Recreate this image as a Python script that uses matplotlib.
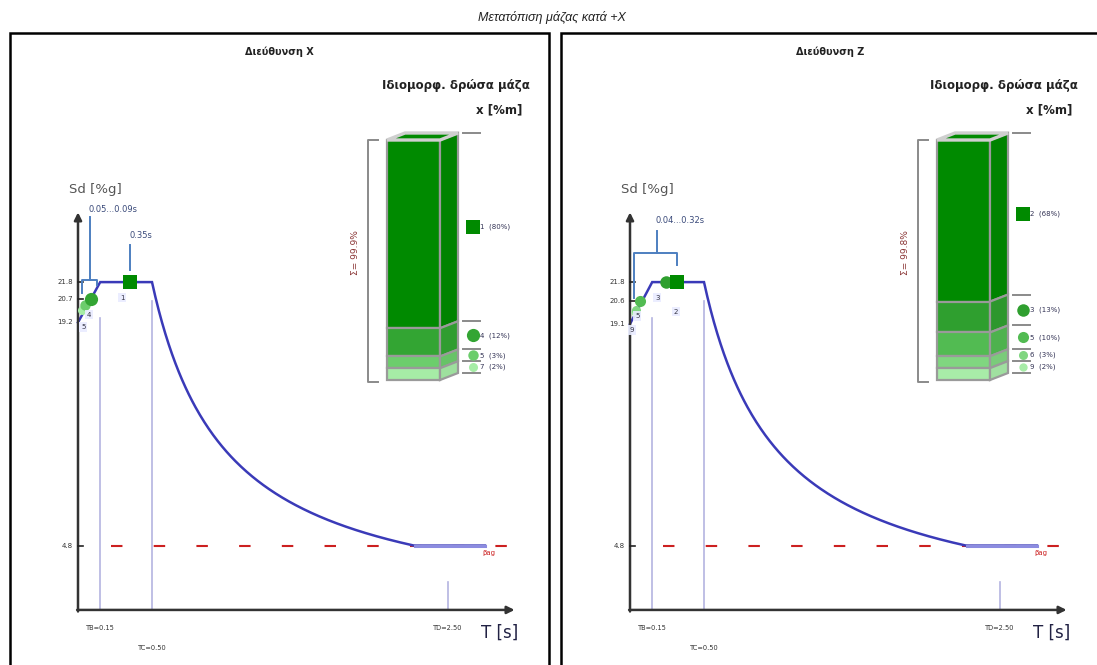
import numpy as np
import matplotlib
matplotlib.use("Agg")
import matplotlib.pyplot as plt
from matplotlib.patches import Rectangle, Polygon

# ---------------- data ----------------
main_title = "Μετατόπιση μάζας κατά +X"
panel_titles = ["Διεύθυνση X", "Διεύθυνση Z"]
mass_title = "Ιδιομορφ. δρώσα μάζα"
mass_unit = "x [%m]"

# design spectrum parameters (per panel)
sd_plateau = [21.8, 21.8]
sd_start = [19.2, 19.1]
sd_floor = [4.8, 4.8]
TB = [0.15, 0.15]
TC = [0.50, 0.50]
TD = [2.50, 2.50]
T_end = [2.75, 2.75]
ytick_vals = [[21.8, 20.7, 19.2], [21.8, 20.6, 19.1]]
ytick_labels = [["21.8", "20.7", "19.2"], ["21.8", "20.6", "19.1"]]

# modes (per panel)
modes_x = ["1", "4", "5", "7"]
periods_x = [0.35, 0.09, 0.05, 0.03]
sd_x = [21.8, 20.7, 20.3, 20.0]
mass_x = [80, 12, 3, 2]
sum_x = "Σ= 99.9%"

modes_z = ["2", "3", "5", "6", "9"]
periods_z = [0.32, 0.24, 0.07, 0.04, 0.035]
sd_z = [21.8, 21.8, 20.6, 20.0, 19.9]
mass_z = [68, 13, 10, 3, 2]
sum_z = "Σ= 99.8%"

range_labels = [["0.05...0.09s", "0.35s"], ["0.04...0.32s"]]

# ---------------- style ----------------
W, H = 1097, 665
fig = plt.figure(figsize=(W / 100, H / 100), dpi=100)
fig.patch.set_facecolor("white")

greens_x = ["#008a00", "#33a533", "#6ccd6c", "#a6eca6"]
greens_z = ["#008a00", "#2f9f2f", "#52bb52", "#80d680", "#a8eca8"]
side_darken = 0.95
curve_col = "#3a3ab8"
vline_col = "#b4b4e0"
brk_col = "#4d7fc0"
txt_col = "#333333"


def fig_rect(x0, y0, x1, y1):
    return [x0 / W, 1 - y1 / H, (x1 - x0) / W, (y1 - y0) / H]


# main title
fig.text(552 / W, 1 - 17 / H, main_title, ha="center", va="center",
         fontsize=9, style="italic",
         family=["Liberation Sans Narrow", "Liberation Sans", "DejaVu Sans"],
         color="#222222")

# panel borders
for x0, x1 in [(10, 549), (561, 1110)]:
    fig.add_artist(Rectangle((x0 / W, -0.05), (x1 - x0) / W, 1 - 33 / H + 0.05,
                             transform=fig.transFigure, fill=False,
                             edgecolor="black", lw=1.8))

# panel layout (pixels)
origins = [78, 630]
px_per_s = 148.0
px_per_u = 15.5
zero_y = 620

modes_all = [modes_x, modes_z]
periods_all = [periods_x, periods_z]
sd_all = [sd_x, sd_z]
mass_all = [mass_x, mass_z]
sums_all = [sum_x, sum_z]
greens_all = [greens_x, greens_z]
msizes_all = [[10, 9.5, 7.5, 6.5], [10, 9.0, 8.0, 6.5, 6.0]]
# mode label positions (T, Sd) - layout only
label_pos = [[(0.30, 20.8), (0.075, 19.7), (0.035, 18.9), None],
             [(0.31, 19.9), (0.185, 20.8), (0.05, 19.6), None, (0.012, 18.7)]]

for p in range(2):
    ox = origins[p]
    panel_x0 = 10 if p == 0 else 561
    ax = fig.add_axes(fig_rect(ox - 58, 180, ox + 467, 660))
    ax.set_xlim(-58 / px_per_s, 467 / px_per_s)
    ax.set_ylim((zero_y - 660) / px_per_u, (zero_y - 180) / px_per_u)
    ax.axis("off")

    # panel title
    fig.text((panel_x0 + 269) / W, 1 - 52 / H, panel_titles[p], ha="center",
             va="center", fontsize=7, fontweight="bold", color="#222222")

    y_axis0 = 0.65
    # vertical reference lines
    ax.plot([TB[p], TB[p]], [y_axis0, 19.5], color=vline_col, lw=1.2, zorder=1)
    ax.plot([TC[p], TC[p]], [y_axis0, 20.6], color=vline_col, lw=1.2, zorder=1)
    ax.plot([TD[p], TD[p]], [y_axis0, 2.45], color=vline_col, lw=1.2, zorder=1)

    # floor dashed line
    ax.plot([0.22, 2.95], [sd_floor[p]] * 2, color="#cc2020", lw=1.5,
            linestyle=(0, (5.5, 15)), zorder=3)
    ax.text(2.73, sd_floor[p] - 0.45, "βag", color="#cc2020", fontsize=5,
            ha="left", va="center")

    # spectrum curve
    T1 = np.linspace(0, TB[p], 10)
    S1 = sd_start[p] + (sd_plateau[p] - sd_start[p]) * T1 / TB[p]
    T2 = np.array([TB[p], TC[p]])
    S2 = np.array([sd_plateau[p]] * 2)
    T3 = np.linspace(TC[p], T_end[p], 300)
    S3 = np.maximum(sd_plateau[p] * TC[p] / T3, sd_floor[p])
    T = np.concatenate([T1, T2, T3])
    S = np.concatenate([S1, S2, S3])
    ax.plot(T, S, color=curve_col, lw=1.8, zorder=4, solid_joinstyle="miter")
    flat = S3 <= sd_floor[p] + 1e-9
    ax.plot(T3[flat], S3[flat], color="#8c8ce0", lw=2.2, zorder=4)

    # axes arrows
    ax.annotate("", xy=(0, 26.3), xytext=(0, y_axis0 - 0.1),
                arrowprops=dict(arrowstyle="-|>", color="#333333", lw=1.8,
                                mutation_scale=11, shrinkA=0, shrinkB=0), zorder=5)
    ax.annotate("", xy=(2.95, y_axis0), xytext=(-0.006, y_axis0),
                arrowprops=dict(arrowstyle="-|>", color="#333333", lw=1.8,
                                mutation_scale=11, shrinkA=0, shrinkB=0), zorder=5)
    ax.text(-0.06, 27.8, "Sd [%g]", fontsize=9.5, color="#555555",
            ha="left", va="center")
    ax.text(2.72, -0.8, "T [s]", fontsize=12, color="#222244",
            ha="left", va="center")

    # y ticks
    for v, lab in zip(ytick_vals[p], ytick_labels[p]):
        if lab != ytick_labels[p][-1]:
            ax.plot([0, 0.035], [v, v], color="#222222", lw=1.2, zorder=6)
        ax.text(-0.035, v, lab, fontsize=5, color=txt_col, ha="right",
                va="center")
    ax.plot([0, 0.035], [sd_floor[p]] * 2, color="#222222", lw=1.2, zorder=6)
    ax.text(-0.035, sd_floor[p], f"{sd_floor[p]:.1f}", fontsize=5,
            color=txt_col, ha="right", va="center")

    # T labels
    ax.text(TB[p], -0.5, f"TB={TB[p]:.2f}", fontsize=4.8, color=txt_col,
            ha="center", va="center")
    ax.text(TC[p], -1.8, f"TC={TC[p]:.2f}", fontsize=4.8, color=txt_col,
            ha="center", va="center")
    ax.text(TD[p], -0.5, f"TD={TD[p]:.2f}", fontsize=4.8, color=txt_col,
            ha="center", va="center")

    # mode markers on spectrum
    md, per, sd, cols, ms = (modes_all[p], periods_all[p], sd_all[p],
                             greens_all[p], msizes_all[p])
    for i in reversed(range(len(md))):
        mk = "s" if i == 0 else "o"
        ax.plot(per[i], sd[i], marker=mk, ms=ms[i], color=cols[i],
                markeredgewidth=0, zorder=7 + (len(md) - i))
        lp = label_pos[p][i]
        if lp is not None:
            ax.text(lp[0], lp[1], md[i], fontsize=5, color="#334",
                    ha="center", va="center", zorder=20,
                    bbox=dict(boxstyle="square,pad=0.25", fc="#e9ecff",
                              ec="none", alpha=0.9))

    # period brackets
    if p == 0:
        ax.plot([0.027, 0.027, 0.128, 0.128], [21.1, 21.95, 21.95, 21.6],
                color=brk_col, lw=1.4, zorder=15)
        ax.plot([0.08, 0.08], [21.95, 26.0], color=brk_col, lw=1.4, zorder=15)
        ax.text(0.07, 26.5, range_labels[p][0], fontsize=6, color="#3a4a7a",
                ha="left", va="center")
        ax.plot([periods_x[0]] * 2, [22.6, 24.2], color=brk_col, lw=1.4)
        ax.text(0.35, 24.8, range_labels[p][1], fontsize=6, color="#3a4a7a",
                ha="left", va="center")
    else:
        ax.plot([0.027, 0.027, 0.318, 0.318], [20.8, 23.7, 23.7, 22.9],
                color=brk_col, lw=1.4, zorder=15)
        ax.plot([0.18, 0.18], [23.7, 25.1], color=brk_col, lw=1.4, zorder=15)
        ax.text(0.17, 25.8, range_labels[p][0], fontsize=6, color="#3a4a7a",
                ha="left", va="center")

    # ---------- effective mass column ----------
    cx0 = 387 + 550 * p  # front-face left pixel
    cax = fig.add_axes(fig_rect(cx0 - 47, 120, cx0 + 158, 395))
    mass = mass_all[p]
    disp = [max(m, 5) for m in mass]
    tot = float(sum(disp))
    k = 240.0 / tot  # px per unit
    cax.set_xlim(-47 / 53, 158 / 53)
    cax.set_ylim(-15 / k, 260 / k)
    cax.axis("off")
    skew = 7.0 / k
    sw = 18 / 53
    bounds = np.concatenate([[0], np.cumsum(disp[::-1])])[::-1]  # top->bottom
    tops = bounds[:-1]
    bots = bounds[1:]
    for i in range(len(mass)):
        c = cols[i]
        cax.bar(0.5, tops[i] - bots[i], bottom=bots[i], width=1.0, color=c,
                edgecolor="#9a9a9a", linewidth=1.6, zorder=2)
        rgb = np.array(matplotlib.colors.to_rgb(c)) * side_darken
        cax.add_patch(Polygon([(1, bots[i]), (1 + sw, bots[i] + skew),
                               (1 + sw, tops[i] + skew), (1, tops[i])],
                              closed=True, fc=rgb, ec="#9a9a9a", lw=1.6,
                              zorder=2))
        ym = (tops[i] + bots[i]) / 2 + skew
        mk = "s" if i == 0 else "o"
        cax.plot(1.62, ym, marker=mk, ms=msizes_all[p][i], color=c,
                 markeredgewidth=0, zorder=4)
        cax.text(1.76, ym, f"{md[i]}  ({mass[i]}%)", fontsize=5,
                 color="#333355", ha="left", va="center")
    cax.add_patch(Polygon([(0, tot), (1, tot), (1 + sw, tot + skew),
                           (sw, tot + skew)], closed=True, fc=cols[0],
                          ec="#cfcfcf", lw=2.4, zorder=3))
    for b in bounds:
        cax.plot([1.43, 1.75], [b + skew, b + skew], color="#8a8a8a", lw=1.4)
    cax.plot([-0.17, -0.36, -0.36, -0.17], [tot, tot, -2 / k, -2 / k],
             color="#8a8a8a", lw=1.4)
    cax.text(-0.6, (380 - 253) / k, sums_all[p], rotation=90, fontsize=6.5,
             color="#8a3535", ha="center", va="center")

    fig.text((530 + 548 * p) / W, 1 - 85 / H, mass_title, ha="right",
             va="center", fontsize=8.5, fontweight="bold", color="#222222")
    fig.text((522 + 550 * p) / W, 1 - 110 / H, mass_unit, ha="right",
             va="center", fontsize=8.5, fontweight="bold", color="#222222")

fig.savefig("out.png", dpi=100, facecolor="white")
